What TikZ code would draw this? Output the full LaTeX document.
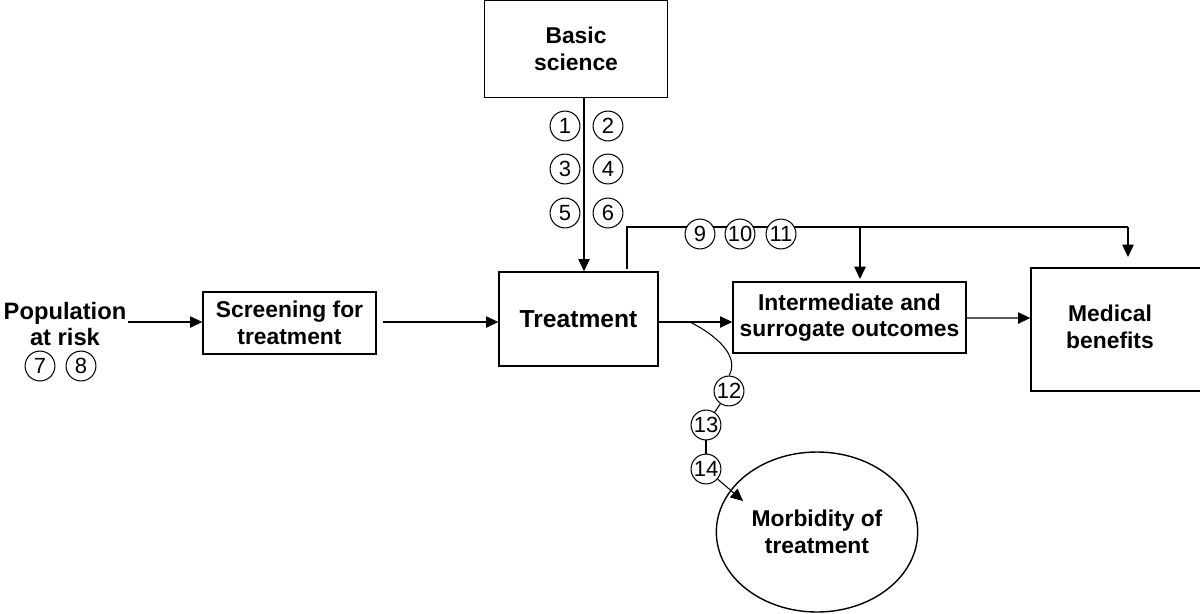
\documentclass[tikz,border=0pt]{standalone}
\usepackage{fontspec}
\setmainfont{Liberation Sans}
\usetikzlibrary{arrows.meta,shapes.geometric}
\tikzset{
  box/.style={draw,thick,inner sep=0pt,font=\fontsize{13}{15}\selectfont\bfseries,align=center},
  num/.style={draw,circle,inner sep=0pt,minimum size=17pt,fill=white,font=\fontsize{12.5}{14}\selectfont},
  arr/.style={-{Triangle[length=7pt,width=6.5pt]}}
}
\begin{document}
\begin{tikzpicture}[x=0.02cm,y=-0.02cm,line width=0.6pt]
\useasboundingbox (0,0) rectangle (1200,613);
% boxes
\node[box,minimum width=183*0.02cm,minimum height=97*0.02cm] (basic) at (576,49) {Basic\\science};
\node[box,minimum width=159*0.02cm,minimum height=94*0.02cm,font=\fontsize{14}{16}\selectfont\bfseries] (treat) at (578.5,319) {Treatment};
\node[box,minimum width=173*0.02cm,minimum height=62*0.02cm] (screen) at (289.5,323) {Screening for\\treatment};
\node[box,minimum width=233*0.02cm,minimum height=71*0.02cm] (inter) at (849.5,317.5) {Intermediate and\\surrogate outcomes};
\node[box,minimum width=179*0.02cm,minimum height=123*0.02cm] (med) at (1120.5,329.5) {};
\node[font=\fontsize{13}{15}\selectfont\bfseries,align=center] (medtxt) at (1110,327) {Medical\\benefits};
\node[font=\fontsize{13.5}{15}\selectfont\bfseries,align=center] (pop) at (65,324) {Population\\at risk};
\node[draw,thick,ellipse,minimum width=165*0.02cm,minimum height=160*0.02cm,
      font=\fontsize{13}{15}\selectfont\bfseries,align=center] (morb) at (817,532) {Morbidity of\\treatment};
% main flow
\coordinate (popend) at (128,322);
\draw[arr] (popend) -- (screen.west |- popend);
\draw[arr] (screen.east |- popend) ++(6,0) -- (treat.west |- popend);
\draw[arr] (treat.east |- popend) -- (inter.west |- popend);
\draw[arr] (inter.east) ++(0,0.5) -- (med.west |- 0,318);
\draw[arr] (basic.south -| 584,0) -- (treat.north -| 584,0);
% upper branch
\coordinate (up) at (627,227);
\coordinate (split) at (860,227);
\coordinate (right) at (1128,227);
\draw (treat.north -| up) ++(0,-2) -- (up) -- (right);
\draw[arr] (split) -- (860,279);
\draw[arr] (right) -- (1128,257);
% numbers
\node[num] (n1) at (565,126) {1};
\node[num] (n2) at (608,126) {2};
\node[num] (n3) at (565,169) {3};
\node[num] (n4) at (608,169) {4};
\node[num] (n5) at (565,213) {5};
\node[num] (n6) at (608,213) {6};
\node[num] (n7) at (40,366) {7};
\node[num] (n8) at (81,366) {8};
\node[num] (n9) at (700,234) {9};
\node[num] (n10) at (740,234) {10};
\node[num] (n11) at (781,234) {11};
% morbidity branch
\node[num] (n12) at (729,391) {12};
\node[num] (n13) at (706,425) {13};
\node[num] (n14) at (706,469) {14};
\draw (690,322) .. controls (725,340) and (738,360) .. (n12.north);
\draw (n12) -- (n13);
\draw (n13) -- (n14);
\draw[arr] (n14) -- (743,501);
\end{tikzpicture}
\end{document}
